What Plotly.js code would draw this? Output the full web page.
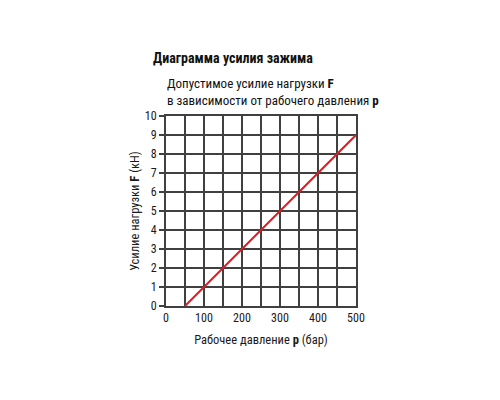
<!DOCTYPE html>
<html>
<head>
<meta charset="utf-8">
<script src="https://cdn.plot.ly/plotly-3.0.1.min.js"></script>
<style>html,body{margin:0;padding:0;background:#fff;}</style>
</head>
<body>
<div id="chart" style="width:500px;height:400px;"></div>
<script>
const pressure = [50, 500];
const force = [0, 9];
const xTicks = [0, 100, 200, 300, 400, 500];
const yTicks = [0, 1, 2, 3, 4, 5, 6, 7, 8, 9, 10];
const chartTitle = "Диаграмма усилия зажима";
const subtitle1 = "Допустимое усилие нагрузки <b>F</b>";
const subtitle2 = "в зависимости от рабочего давления <b>p</b>";
const xTitle = "Рабочее давление <b>p</b> (бар)";
const yTitle = "Усилие нагрузки <b>F</b> (кН)";

const FONT = "Roboto Condensed, Roboto, sans-serif";
const grid = "#404040";

Plotly.newPlot("chart", [{
  x: pressure, y: force, type: "scatter", mode: "lines",
  line: {color: "#e3191f", width: 2}, hoverinfo: "skip"
}], {
  width: 500, height: 400,
  margin: {l: 166, r: 144, t: 116, b: 94},
  paper_bgcolor: "#fff", plot_bgcolor: "#fff",
  showlegend: false,
  font: {family: FONT, color: "#1a1a1a", size: 12},
  xaxis: {
    range: [0, 500], tickvals: xTicks, ticktext: xTicks.map(String),
    showgrid: true, gridcolor: grid, gridwidth: 2,
    minor: {dtick: 50, tick0: 0, showgrid: true, gridcolor: grid, gridwidth: 2},
    showline: true, mirror: true, linecolor: grid, linewidth: 2,
    zeroline: false, ticks: "", tickfont: {size: 12, family: FONT},
    title: {text: xTitle, font: {size: 12.5, family: FONT}, standoff: 11},
    fixedrange: true
  },
  yaxis: {
    range: [0, 10], tickvals: yTicks, ticktext: yTicks.map(String),
    showgrid: true, gridcolor: grid, gridwidth: 2,
    showline: true, mirror: true, linecolor: grid, linewidth: 2,
    zeroline: false, ticks: "outside", ticklen: 5, tickwidth: 2, tickcolor: grid,
    tickfont: {size: 12, family: FONT},
    title: {text: yTitle, font: {size: 12.5, family: FONT}, standoff: 2},
    fixedrange: true
  },
  annotations: [
    {text: "<b>" + chartTitle + "</b>", xref: "paper", yref: "paper",
     x: -0.078, y: 1.305, xanchor: "left", yanchor: "middle", showarrow: false,
     font: {size: 14, family: FONT, color: "#111"}},
    {text: subtitle1, xref: "paper", yref: "paper",
     x: -0.006, y: 1.172, xanchor: "left", yanchor: "middle", showarrow: false,
     font: {size: 13, family: FONT, color: "#111"}},
    {text: subtitle2, xref: "paper", yref: "paper",
     x: -0.006, y: 1.084, xanchor: "left", yanchor: "middle", showarrow: false,
     font: {size: 13, family: FONT, color: "#111"}}
  ]
}, {displayModeBar: false, staticPlot: true});
</script>
</body>
</html>
